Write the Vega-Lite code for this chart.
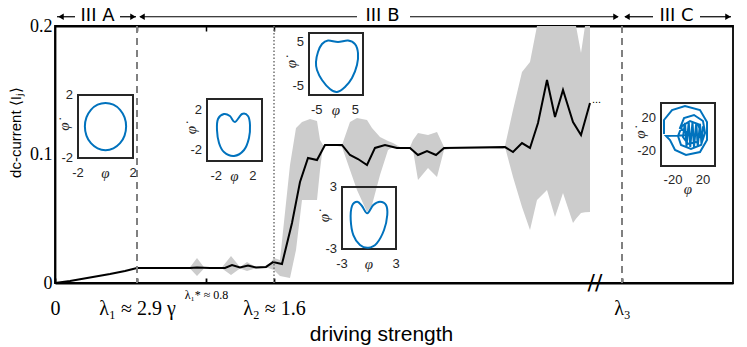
{
  "$schema": "https://vega.github.io/schema/vega-lite/v6.json",
  "width": 678,
  "height": 257,
  "autosize": {"type": "none"},
  "padding": {"left": 55, "top": 26, "right": 14, "bottom": 64},
  "background": "white",
  "config": {"view": {"stroke": "black", "strokeWidth": 1.8}, "axis": {"grid": false}},
  "resolve": {"scale": {"x": "independent", "y": "independent"}},
  "layer": [
    {
      "data": {"values": [
        {"x": 82, "hi": 0.0123, "lo": 0.0112}, {"x": 130, "hi": 0.0123, "lo": 0.0112},
        {"x": 135, "hi": 0.0123, "lo": 0.0112}, {"x": 142, "hi": 0.0195, "lo": 0.0054},
        {"x": 149, "hi": 0.0123, "lo": 0.0112}, {"x": 167, "hi": 0.0123, "lo": 0.0112},
        {"x": 176, "hi": 0.021, "lo": 0.0062}, {"x": 185, "hi": 0.0125, "lo": 0.0112},
        {"x": 192, "hi": 0.0163, "lo": 0.0093}, {"x": 200, "hi": 0.0128, "lo": 0.0112},
        {"x": 213, "hi": 0.0132, "lo": 0.0117}, {"x": 219, "hi": 0.0195, "lo": 0.0101},
        {"x": 225, "hi": 0.0179, "lo": 0.0054}, {"x": 235, "hi": 0.0918, "lo": 0.0039},
        {"x": 241, "hi": 0.1206, "lo": 0.0257}, {"x": 247, "hi": 0.1253, "lo": 0.0646},
        {"x": 255, "hi": 0.1276, "lo": 0.0646}, {"x": 262, "hi": 0.1261, "lo": 0.0646},
        {"x": 265, "hi": 0.1113, "lo": 0.0879}, {"x": 268, "hi": 0.1074, "lo": 0.1066},
        {"x": 282, "hi": 0.1074, "lo": 0.1066}, {"x": 287, "hi": 0.1074, "lo": 0.1058},
        {"x": 295, "hi": 0.1253, "lo": 0.0879}, {"x": 302, "hi": 0.1284, "lo": 0.0724},
        {"x": 312, "hi": 0.1268, "lo": 0.0553}, {"x": 317, "hi": 0.1206, "lo": 0.0607},
        {"x": 325, "hi": 0.1136, "lo": 0.084}, {"x": 333, "hi": 0.1105, "lo": 0.1035},
        {"x": 338, "hi": 0.1089, "lo": 0.1058}, {"x": 345, "hi": 0.1058, "lo": 0.1043},
        {"x": 355, "hi": 0.1058, "lo": 0.1043}, {"x": 358, "hi": 0.1113, "lo": 0.1035},
        {"x": 363, "hi": 0.1167, "lo": 0.0802}, {"x": 373, "hi": 0.1152, "lo": 0.0895},
        {"x": 382, "hi": 0.1175, "lo": 0.0825}, {"x": 389, "hi": 0.1058, "lo": 0.1035},
        {"x": 395, "hi": 0.1058, "lo": 0.1043}, {"x": 448, "hi": 0.1058, "lo": 0.1043},
        {"x": 450, "hi": 0.1066, "lo": 0.1058}, {"x": 458, "hi": 0.1346, "lo": 0.0825},
        {"x": 467, "hi": 0.1642, "lo": 0.0591}, {"x": 475, "hi": 0.172, "lo": 0.0412},
        {"x": 482, "hi": 0.2, "lo": 0.0646}, {"x": 492, "hi": 0.2, "lo": 0.0724},
        {"x": 500, "hi": 0.2, "lo": 0.0514}, {"x": 508, "hi": 0.2, "lo": 0.07},
        {"x": 518, "hi": 0.2, "lo": 0.0467}, {"x": 521, "hi": 0.2, "lo": 0.05},
        {"x": 526, "hi": 0.179, "lo": 0.0545}, {"x": 530, "hi": 0.2, "lo": 0.055},
        {"x": 535, "hi": 0.2, "lo": 0.0553}
      ]},
      "mark": {"type": "area", "color": "#cccccc"},
      "encoding": {
        "x": {"field": "x", "type": "quantitative", "scale": {"domain": [0, 678], "nice": false, "zero": false},
          "axis": {"orient": "bottom", "values": [0, 82, 151, 219, 567],
            "labelExpr": "datum.value == 0 ? '0' : datum.value == 82 ? 'λ₁ ≈ 2.9 γ' : datum.value == 151 ? 'λ₁* ≈ 0.8' : datum.value == 219 ? 'λ₂ ≈ 1.6' : 'λ₃'",
            "labelFont": "Liberation Serif",
            "labelFontSize": {"condition": {"test": "datum.value == 151", "value": 12}, "value": 20},
            "labelBaseline": {"condition": {"test": "datum.value == 151", "value": "alphabetic"}, "value": "top"},
            "labelColor": "black", "labelPadding": 20, "labelFlush": false, "labelOverlap": false,
            "tickSize": -5, "tickColor": "black", "tickWidth": 1.8,
            "domainColor": "black", "domainWidth": 1.8,
            "title": "driving strength", "titleFont": "Liberation Sans", "titleFontSize": 21,
            "titleFontWeight": "normal", "titleColor": "black", "titlePadding": 5, "titleX": 326}},
        "y": {"field": "hi", "type": "quantitative", "scale": {"domain": [0, 0.2], "nice": false, "zero": false},
          "axis": {"orient": "left", "values": [0, 0.1, 0.2],
            "labelExpr": "datum.value == 0 ? '0' : datum.value == 0.1 ? '0.1' : '0.2'",
            "labelFont": "Liberation Serif", "labelFontSize": 18, "labelColor": "black", "labelPadding": 3,
            "tickSize": 0, "domainColor": "black", "domainWidth": 1.8,
            "title": "dc-current ⟨Iⱼ⟩", "titleFont": "Liberation Sans", "titleFontSize": 15,
            "titleFontWeight": "normal", "titleColor": "black", "titlePadding": 6, "titleY": 106}},
        "y2": {"field": "lo"}
      }
    },
    {
      "data": {"values": [
        {"x": 0, "y": 0}, {"x": 15, "y": 0.0016}, {"x": 35, "y": 0.0043}, {"x": 55, "y": 0.007},
        {"x": 70, "y": 0.0093}, {"x": 82, "y": 0.0117}, {"x": 105, "y": 0.0117}, {"x": 135, "y": 0.0117},
        {"x": 142, "y": 0.0121}, {"x": 155, "y": 0.0117}, {"x": 170, "y": 0.0117}, {"x": 177, "y": 0.014},
        {"x": 185, "y": 0.0121}, {"x": 193, "y": 0.0136}, {"x": 201, "y": 0.0121}, {"x": 211, "y": 0.0125},
        {"x": 218, "y": 0.0163}, {"x": 227, "y": 0.0148}, {"x": 237, "y": 0.0467}, {"x": 245, "y": 0.0786},
        {"x": 253, "y": 0.0973}, {"x": 262, "y": 0.0957}, {"x": 270, "y": 0.1074}, {"x": 287, "y": 0.1074},
        {"x": 295, "y": 0.0996}, {"x": 303, "y": 0.0965}, {"x": 312, "y": 0.0918}, {"x": 320, "y": 0.1051},
        {"x": 330, "y": 0.1074}, {"x": 342, "y": 0.1051}, {"x": 355, "y": 0.1051}, {"x": 363, "y": 0.0996},
        {"x": 372, "y": 0.1027}, {"x": 381, "y": 0.0996}, {"x": 389, "y": 0.1051}, {"x": 450, "y": 0.1058},
        {"x": 458, "y": 0.1019}, {"x": 467, "y": 0.1089}, {"x": 475, "y": 0.1051}, {"x": 483, "y": 0.1245},
        {"x": 492, "y": 0.158}, {"x": 500, "y": 0.1292}, {"x": 508, "y": 0.1502}, {"x": 518, "y": 0.1253},
        {"x": 526, "y": 0.1152}, {"x": 535, "y": 0.1401}
      ]},
      "mark": {"type": "line", "color": "black", "strokeWidth": 2},
      "encoding": {
        "x": {"field": "x", "type": "quantitative", "scale": {"domain": [0, 678], "nice": false, "zero": false},
          "axis": {"orient": "top", "values": [82, 151, 219], "labels": false, "tickSize": -5,
            "tickColor": "black", "tickWidth": 1.5, "domainColor": "black", "domainWidth": 1.8, "title": null}},
        "y": {"field": "y", "type": "quantitative", "scale": {"domain": [0, 0.2], "nice": false, "zero": false}, "axis": null}
      }
    },
    {
      "data": {"values": [{"x": 82}, {"x": 567}]},
      "mark": {"type": "rule", "color": "#808080", "strokeWidth": 2, "strokeDash": [7, 5]},
      "encoding": {"x": {"field": "x", "type": "quantitative", "scale": {"domain": [0, 678], "nice": false, "zero": false}, "axis": null}}
    },
    {
      "data": {"values": [{"x": 219}]},
      "mark": {"type": "rule", "color": "#707070", "strokeWidth": 1.5, "strokeDash": [1.5, 2]},
      "encoding": {"x": {"field": "x", "type": "quantitative", "scale": {"domain": [0, 678], "nice": false, "zero": false}, "axis": null}}
    },
    {
      "data": {"values": [{"x": 535, "y": 0.1401}]},
      "mark": {"type": "text", "text": "...", "align": "left", "baseline": "middle", "dx": 2, "dy": -3, "fontSize": 11, "font": "Liberation Sans", "color": "black"},
      "encoding": {
        "x": {"field": "x", "type": "quantitative", "scale": {"domain": [0, 678], "nice": false, "zero": false}, "axis": null},
        "y": {"field": "y", "type": "quantitative", "scale": {"domain": [0, 0.2], "nice": false, "zero": false}, "axis": null}
      }
    },
    {
      "data": {"values": [{"x": 540, "y": 0}]},
      "mark": {"type": "text", "text": "//", "align": "center", "baseline": "middle", "fontSize": 22, "font": "DejaVu Sans", "color": "black"},
      "encoding": {
        "x": {"field": "x", "type": "quantitative", "scale": {"domain": [0, 678], "nice": false, "zero": false}, "axis": null},
        "y": {"field": "y", "type": "quantitative", "scale": {"domain": [0, 0.2], "nice": false, "zero": false}, "axis": null}
      }
    },
    {
      "data": {"values": [
        {"x1": 2, "x2": 20}, {"x1": 65, "x2": 81}, {"x1": 85, "x2": 302},
        {"x1": 355, "x2": 563}, {"x1": 570, "x2": 598}, {"x1": 645, "x2": 676}
      ]},
      "mark": {"type": "rule", "color": "black", "strokeWidth": 1.2},
      "encoding": {
        "x": {"field": "x1", "type": "quantitative", "scale": {"domain": [0, 678], "nice": false, "zero": false}, "axis": null},
        "x2": {"field": "x2"},
        "y": {"datum": 0.2072, "type": "quantitative", "scale": {"domain": [0, 0.2], "nice": false, "zero": false}, "axis": null}
      }
    },
    {
      "data": {"values": [
        {"x": 6, "d": "l"}, {"x": 78, "d": "r"}, {"x": 87, "d": "l"},
        {"x": 561, "d": "r"}, {"x": 572, "d": "l"}, {"x": 673, "d": "r"}
      ]},
      "mark": {"type": "point", "filled": true, "color": "black", "size": 40, "opacity": 1},
      "encoding": {
        "x": {"field": "x", "type": "quantitative", "scale": {"domain": [0, 678], "nice": false, "zero": false}, "axis": null},
        "y": {"datum": 0.2072, "type": "quantitative", "scale": {"domain": [0, 0.2], "nice": false, "zero": false}, "axis": null},
        "shape": {"field": "d", "type": "nominal", "scale": {"domain": ["l", "r"], "range": ["triangle-left", "triangle-right"]}, "legend": null}
      }
    },
    {
      "data": {"values": [{"x": 42.5, "t": "III A"}, {"x": 327.5, "t": "III B"}, {"x": 621.5, "t": "III C"}]},
      "mark": {"type": "text", "align": "center", "baseline": "middle", "font": "DejaVu Sans", "fontSize": 18, "color": "black"},
      "encoding": {
        "x": {"field": "x", "type": "quantitative", "scale": {"domain": [0, 678], "nice": false, "zero": false}, "axis": null},
        "y": {"datum": 0.2078, "type": "quantitative", "scale": {"domain": [0, 0.2], "nice": false, "zero": false}, "axis": null},
        "text": {"field": "t"}
      }
    },
    {
      "layer": [
        {
          "data": {"values": [{}]},
          "mark": {"type": "rect", "fill": "white", "fillOpacity": 0, "stroke": "#262626", "strokeWidth": 2},
          "encoding": {
            "x": {"datum": -2, "type": "quantitative", "scale": {"domain": [-2, 2], "range": [23, 78], "nice": false, "zero": false}, "axis": null},
            "x2": {"datum": 2},
            "y": {"datum": -2, "type": "quantitative", "scale": {"domain": [-2, 2], "range": [132, 69], "nice": false, "zero": false}, "axis": null},
            "y2": {"datum": 2}
          }
        },
        {
          "data": {"values": [
            {"i": 0, "x": 1.5, "y": 0}, {"i": 1, "x": 1.386, "y": 0.574}, {"i": 2, "x": 1.061, "y": 1.061},
            {"i": 3, "x": 0.574, "y": 1.386}, {"i": 4, "x": 0, "y": 1.5}, {"i": 5, "x": -0.574, "y": 1.386},
            {"i": 6, "x": -1.061, "y": 1.061}, {"i": 7, "x": -1.386, "y": 0.574}, {"i": 8, "x": -1.5, "y": 0},
            {"i": 9, "x": -1.386, "y": -0.574}, {"i": 10, "x": -1.061, "y": -1.061}, {"i": 11, "x": -0.574, "y": -1.386},
            {"i": 12, "x": 0, "y": -1.5}, {"i": 13, "x": 0.574, "y": -1.386}, {"i": 14, "x": 1.061, "y": -1.061},
            {"i": 15, "x": 1.386, "y": -0.574}
          ]},
          "mark": {"type": "line", "interpolate": "cardinal-closed", "color": "#0072BD", "strokeWidth": 2},
          "encoding": {
            "x": {"field": "x", "type": "quantitative", "scale": {"domain": [-2, 2], "range": [23, 78], "nice": false, "zero": false}, "axis": null},
            "y": {"field": "y", "type": "quantitative", "scale": {"domain": [-2, 2], "range": [132, 69], "nice": false, "zero": false}, "axis": null},
            "order": {"field": "i", "type": "quantitative"}
          }
        },
        {
          "data": {"values": [{"v": 2, "t": "2"}, {"v": -2, "t": "-2"}]},
          "mark": {"type": "text", "align": "right", "baseline": "middle", "dx": -5, "font": "Liberation Sans", "fontSize": 13, "color": "#262626"},
          "encoding": {
            "x": {"datum": -2, "type": "quantitative", "scale": {"domain": [-2, 2], "range": [23, 78], "nice": false, "zero": false}, "axis": null},
            "y": {"field": "v", "type": "quantitative", "scale": {"domain": [-2, 2], "range": [132, 69], "nice": false, "zero": false}, "axis": null},
            "text": {"field": "t"}
          }
        },
        {
          "data": {"values": [{"v": -2, "t": "-2"}, {"v": 2, "t": "2"}]},
          "mark": {"type": "text", "align": "center", "baseline": "middle", "dy": 15, "font": "Liberation Sans", "fontSize": 13, "color": "#262626"},
          "encoding": {
            "x": {"field": "v", "type": "quantitative", "scale": {"domain": [-2, 2], "range": [23, 78], "nice": false, "zero": false}, "axis": null},
            "y": {"datum": -2, "type": "quantitative", "scale": {"domain": [-2, 2], "range": [132, 69], "nice": false, "zero": false}, "axis": null},
            "text": {"field": "t"}
          }
        },
        {
          "data": {"values": [{}]},
          "mark": {"type": "text", "text": "φ", "align": "center", "baseline": "middle", "dy": 15, "font": "Liberation Serif", "fontStyle": "italic", "fontSize": 15, "color": "#262626"},
          "encoding": {
            "x": {"datum": 0, "type": "quantitative", "scale": {"domain": [-2, 2], "range": [23, 78], "nice": false, "zero": false}, "axis": null},
            "y": {"datum": -2, "type": "quantitative", "scale": {"domain": [-2, 2], "range": [132, 69], "nice": false, "zero": false}, "axis": null}
          }
        },
        {
          "data": {"values": [{}]},
          "mark": {"type": "text", "text": "φ̇", "angle": 270, "align": "center", "baseline": "middle", "dy": -14, "font": "Liberation Serif", "fontStyle": "italic", "fontSize": 15, "color": "#262626"},
          "encoding": {
            "x": {"datum": -2, "type": "quantitative", "scale": {"domain": [-2, 2], "range": [23, 78], "nice": false, "zero": false}, "axis": null},
            "y": {"datum": 0, "type": "quantitative", "scale": {"domain": [-2, 2], "range": [132, 69], "nice": false, "zero": false}, "axis": null}
          }
        }
      ]
    },
    {
      "layer": [
        {
          "data": {"values": [{}]},
          "mark": {"type": "rect", "fill": "white", "fillOpacity": 0, "stroke": "#262626", "strokeWidth": 2},
          "encoding": {
            "x": {"datum": -3, "type": "quantitative", "scale": {"domain": [-3, 3], "range": [152, 207], "nice": false, "zero": false}, "axis": null},
            "x2": {"datum": 3},
            "y": {"datum": -3.1, "type": "quantitative", "scale": {"domain": [-3.1, 3.1], "range": [135, 73], "nice": false, "zero": false}, "axis": null},
            "y2": {"datum": 3.1}
          }
        },
        {
          "data": {"values": [
            {"i": 0, "x": 0.05, "y": 0.8}, {"i": 1, "x": 0.82, "y": 1.6}, {"i": 2, "x": 1.47, "y": 1.4},
            {"i": 3, "x": 1.69, "y": 0.5}, {"i": 4, "x": 1.58, "y": -0.8}, {"i": 5, "x": 1.04, "y": -2.0},
            {"i": 6, "x": -0.05, "y": -2.6}, {"i": 7, "x": -1.15, "y": -2.2}, {"i": 8, "x": -1.69, "y": -1.3},
            {"i": 9, "x": -1.91, "y": 0}, {"i": 10, "x": -1.8, "y": 1.1}, {"i": 11, "x": -1.15, "y": 1.6},
            {"i": 12, "x": -0.5, "y": 1.4}
          ]},
          "mark": {"type": "line", "interpolate": "cardinal-closed", "color": "#0072BD", "strokeWidth": 2},
          "encoding": {
            "x": {"field": "x", "type": "quantitative", "scale": {"domain": [-3, 3], "range": [152, 207], "nice": false, "zero": false}, "axis": null},
            "y": {"field": "y", "type": "quantitative", "scale": {"domain": [-3.1, 3.1], "range": [135, 73], "nice": false, "zero": false}, "axis": null},
            "order": {"field": "i", "type": "quantitative"}
          }
        },
        {
          "data": {"values": [{"v": 2, "t": "2"}, {"v": -2, "t": "-2"}]},
          "mark": {"type": "text", "align": "right", "baseline": "middle", "dx": -5, "font": "Liberation Sans", "fontSize": 13, "color": "#262626"},
          "encoding": {
            "x": {"datum": -3, "type": "quantitative", "scale": {"domain": [-3, 3], "range": [152, 207], "nice": false, "zero": false}, "axis": null},
            "y": {"field": "v", "type": "quantitative", "scale": {"domain": [-3.1, 3.1], "range": [135, 73], "nice": false, "zero": false}, "axis": null},
            "text": {"field": "t"}
          }
        },
        {
          "data": {"values": [{"v": -2, "t": "-2"}, {"v": 2, "t": "2"}]},
          "mark": {"type": "text", "align": "center", "baseline": "middle", "dy": 15, "font": "Liberation Sans", "fontSize": 13, "color": "#262626"},
          "encoding": {
            "x": {"field": "v", "type": "quantitative", "scale": {"domain": [-3, 3], "range": [152, 207], "nice": false, "zero": false}, "axis": null},
            "y": {"datum": -3.1, "type": "quantitative", "scale": {"domain": [-3.1, 3.1], "range": [135, 73], "nice": false, "zero": false}, "axis": null},
            "text": {"field": "t"}
          }
        },
        {
          "data": {"values": [{}]},
          "mark": {"type": "text", "text": "φ", "align": "center", "baseline": "middle", "dy": 15, "font": "Liberation Serif", "fontStyle": "italic", "fontSize": 15, "color": "#262626"},
          "encoding": {
            "x": {"datum": 0, "type": "quantitative", "scale": {"domain": [-3, 3], "range": [152, 207], "nice": false, "zero": false}, "axis": null},
            "y": {"datum": -3.1, "type": "quantitative", "scale": {"domain": [-3.1, 3.1], "range": [135, 73], "nice": false, "zero": false}, "axis": null}
          }
        },
        {
          "data": {"values": [{}]},
          "mark": {"type": "text", "text": "φ̇", "angle": 270, "align": "center", "baseline": "middle", "dy": -16, "font": "Liberation Serif", "fontStyle": "italic", "fontSize": 15, "color": "#262626"},
          "encoding": {
            "x": {"datum": -3, "type": "quantitative", "scale": {"domain": [-3, 3], "range": [152, 207], "nice": false, "zero": false}, "axis": null},
            "y": {"datum": 0, "type": "quantitative", "scale": {"domain": [-3.1, 3.1], "range": [135, 73], "nice": false, "zero": false}, "axis": null}
          }
        }
      ]
    },
    {
      "layer": [
        {
          "data": {"values": [{}]},
          "mark": {"type": "rect", "fill": "white", "fillOpacity": 0, "stroke": "#262626", "strokeWidth": 2},
          "encoding": {
            "x": {"datum": -7, "type": "quantitative", "scale": {"domain": [-7, 7], "range": [254, 308], "nice": false, "zero": false}, "axis": null},
            "x2": {"datum": 7},
            "y": {"datum": -7, "type": "quantitative", "scale": {"domain": [-7, 7], "range": [69, 7], "nice": false, "zero": false}, "axis": null},
            "y2": {"datum": 7}
          }
        },
        {
          "data": {"values": [
            {"i": 0, "x": 0.52, "y": 4.97}, {"i": 1, "x": 3.11, "y": 5.3}, {"i": 2, "x": 4.93, "y": 4.51},
            {"i": 3, "x": 5.7, "y": 2.48}, {"i": 4, "x": 5.44, "y": -0.23}, {"i": 5, "x": 4.15, "y": -3.16},
            {"i": 6, "x": 2.33, "y": -5.19}, {"i": 7, "x": 0.26, "y": -6.32}, {"i": 8, "x": -1.56, "y": -5.64},
            {"i": 9, "x": -3.63, "y": -3.61}, {"i": 10, "x": -4.93, "y": -1.35}, {"i": 11, "x": -5.19, "y": 0.45},
            {"i": 12, "x": -4.67, "y": 2.71}, {"i": 13, "x": -3.63, "y": 4.51}, {"i": 14, "x": -2.07, "y": 5.3}
          ]},
          "mark": {"type": "line", "interpolate": "cardinal-closed", "color": "#0072BD", "strokeWidth": 2},
          "encoding": {
            "x": {"field": "x", "type": "quantitative", "scale": {"domain": [-7, 7], "range": [254, 308], "nice": false, "zero": false}, "axis": null},
            "y": {"field": "y", "type": "quantitative", "scale": {"domain": [-7, 7], "range": [69, 7], "nice": false, "zero": false}, "axis": null},
            "order": {"field": "i", "type": "quantitative"}
          }
        },
        {
          "data": {"values": [{"v": 5, "t": "5"}, {"v": -5, "t": "-5"}]},
          "mark": {"type": "text", "align": "right", "baseline": "middle", "dx": -5, "font": "Liberation Sans", "fontSize": 13, "color": "#262626"},
          "encoding": {
            "x": {"datum": -7, "type": "quantitative", "scale": {"domain": [-7, 7], "range": [254, 308], "nice": false, "zero": false}, "axis": null},
            "y": {"field": "v", "type": "quantitative", "scale": {"domain": [-7, 7], "range": [69, 7], "nice": false, "zero": false}, "axis": null},
            "text": {"field": "t"}
          }
        },
        {
          "data": {"values": [{"v": -5, "t": "-5"}, {"v": 5, "t": "5"}]},
          "mark": {"type": "text", "align": "center", "baseline": "middle", "dy": 15, "font": "Liberation Sans", "fontSize": 13, "color": "#262626"},
          "encoding": {
            "x": {"field": "v", "type": "quantitative", "scale": {"domain": [-7, 7], "range": [254, 308], "nice": false, "zero": false}, "axis": null},
            "y": {"datum": -7, "type": "quantitative", "scale": {"domain": [-7, 7], "range": [69, 7], "nice": false, "zero": false}, "axis": null},
            "text": {"field": "t"}
          }
        },
        {
          "data": {"values": [{}]},
          "mark": {"type": "text", "text": "φ", "align": "center", "baseline": "middle", "dy": 15, "font": "Liberation Serif", "fontStyle": "italic", "fontSize": 15, "color": "#262626"},
          "encoding": {
            "x": {"datum": 0, "type": "quantitative", "scale": {"domain": [-7, 7], "range": [254, 308], "nice": false, "zero": false}, "axis": null},
            "y": {"datum": -7, "type": "quantitative", "scale": {"domain": [-7, 7], "range": [69, 7], "nice": false, "zero": false}, "axis": null}
          }
        },
        {
          "data": {"values": [{}]},
          "mark": {"type": "text", "text": "φ̇", "angle": 270, "align": "center", "baseline": "middle", "dy": -18, "font": "Liberation Serif", "fontStyle": "italic", "fontSize": 15, "color": "#262626"},
          "encoding": {
            "x": {"datum": -7, "type": "quantitative", "scale": {"domain": [-7, 7], "range": [254, 308], "nice": false, "zero": false}, "axis": null},
            "y": {"datum": 0, "type": "quantitative", "scale": {"domain": [-7, 7], "range": [69, 7], "nice": false, "zero": false}, "axis": null}
          }
        }
      ]
    },
    {
      "layer": [
        {
          "data": {"values": [{}]},
          "mark": {"type": "rect", "fill": "white", "fillOpacity": 0, "stroke": "#262626", "strokeWidth": 2},
          "encoding": {
            "x": {"datum": -3, "type": "quantitative", "scale": {"domain": [-3, 3], "range": [287, 341], "nice": false, "zero": false}, "axis": null},
            "x2": {"datum": 3},
            "y": {"datum": -3, "type": "quantitative", "scale": {"domain": [-3, 3], "range": [223, 161], "nice": false, "zero": false}, "axis": null},
            "y2": {"datum": 3}
          }
        },
        {
          "data": {"values": [
            {"i": 0, "x": -0.19, "y": 0.45}, {"i": 1, "x": -0.78, "y": 1.16}, {"i": 2, "x": -1.3, "y": 1.58},
            {"i": 3, "x": -1.89, "y": 1.16}, {"i": 4, "x": -2.03, "y": -0.19}, {"i": 5, "x": -1.74, "y": -1.65},
            {"i": 6, "x": -1.0, "y": -2.61}, {"i": 7, "x": -0.08, "y": -2.88}, {"i": 8, "x": 0.86, "y": -2.45},
            {"i": 9, "x": 1.67, "y": -1.16}, {"i": 10, "x": 2.03, "y": 0.29}, {"i": 11, "x": 1.89, "y": 1.26},
            {"i": 12, "x": 1.22, "y": 1.58}, {"i": 13, "x": 0.48, "y": 1.26}
          ]},
          "mark": {"type": "line", "interpolate": "cardinal-closed", "color": "#0072BD", "strokeWidth": 2},
          "encoding": {
            "x": {"field": "x", "type": "quantitative", "scale": {"domain": [-3, 3], "range": [287, 341], "nice": false, "zero": false}, "axis": null},
            "y": {"field": "y", "type": "quantitative", "scale": {"domain": [-3, 3], "range": [223, 161], "nice": false, "zero": false}, "axis": null},
            "order": {"field": "i", "type": "quantitative"}
          }
        },
        {
          "data": {"values": [{"v": 3, "t": "3"}, {"v": -3, "t": "-3"}]},
          "mark": {"type": "text", "align": "right", "baseline": "middle", "dx": -5, "font": "Liberation Sans", "fontSize": 13, "color": "#262626"},
          "encoding": {
            "x": {"datum": -3, "type": "quantitative", "scale": {"domain": [-3, 3], "range": [287, 341], "nice": false, "zero": false}, "axis": null},
            "y": {"field": "v", "type": "quantitative", "scale": {"domain": [-3, 3], "range": [223, 161], "nice": false, "zero": false}, "axis": null},
            "text": {"field": "t"}
          }
        },
        {
          "data": {"values": [{"v": -3, "t": "-3"}, {"v": 3, "t": "3"}]},
          "mark": {"type": "text", "align": "center", "baseline": "middle", "dy": 15, "font": "Liberation Sans", "fontSize": 13, "color": "#262626"},
          "encoding": {
            "x": {"field": "v", "type": "quantitative", "scale": {"domain": [-3, 3], "range": [287, 341], "nice": false, "zero": false}, "axis": null},
            "y": {"datum": -3, "type": "quantitative", "scale": {"domain": [-3, 3], "range": [223, 161], "nice": false, "zero": false}, "axis": null},
            "text": {"field": "t"}
          }
        },
        {
          "data": {"values": [{}]},
          "mark": {"type": "text", "text": "φ", "align": "center", "baseline": "middle", "dy": 15, "font": "Liberation Serif", "fontStyle": "italic", "fontSize": 15, "color": "#262626"},
          "encoding": {
            "x": {"datum": 0, "type": "quantitative", "scale": {"domain": [-3, 3], "range": [287, 341], "nice": false, "zero": false}, "axis": null},
            "y": {"datum": -3, "type": "quantitative", "scale": {"domain": [-3, 3], "range": [223, 161], "nice": false, "zero": false}, "axis": null}
          }
        },
        {
          "data": {"values": [{}]},
          "mark": {"type": "text", "text": "φ̇", "angle": 270, "align": "center", "baseline": "middle", "dy": -18, "font": "Liberation Serif", "fontStyle": "italic", "fontSize": 15, "color": "#262626"},
          "encoding": {
            "x": {"datum": -3, "type": "quantitative", "scale": {"domain": [-3, 3], "range": [287, 341], "nice": false, "zero": false}, "axis": null},
            "y": {"datum": 0, "type": "quantitative", "scale": {"domain": [-3, 3], "range": [223, 161], "nice": false, "zero": false}, "axis": null}
          }
        }
      ]
    },
    {
      "layer": [
        {
          "data": {"values": [{}]},
          "mark": {"type": "rect", "fill": "white", "fillOpacity": 0, "stroke": "#262626", "strokeWidth": 2},
          "encoding": {
            "x": {"datum": -36, "type": "quantitative", "scale": {"domain": [-36, 36], "range": [606, 660], "nice": false, "zero": false}, "axis": null},
            "x2": {"datum": 36},
            "y": {"datum": -38, "type": "quantitative", "scale": {"domain": [-38, 38], "range": [140, 77], "nice": false, "zero": false}, "axis": null},
            "y2": {"datum": 38}
          }
        },
        {
          "data": {"values": [
            {"i": 0, "x": -32, "y": 0.6}, {"i": 1, "x": -32, "y": 17.5}, {"i": 2, "x": -21.3, "y": 29.5},
            {"i": 3, "x": -4, "y": 34.3}, {"i": 4, "x": 16, "y": 29.5}, {"i": 5, "x": 25.3, "y": 15.1},
            {"i": 6, "x": 25.3, "y": -6.6}, {"i": 7, "x": 16, "y": -21.1}, {"i": 8, "x": -2.7, "y": -24.7},
            {"i": 9, "x": -17.3, "y": -18.7}, {"i": 10, "x": -24, "y": -6.6}, {"i": 11, "x": -29.3, "y": -1.8},
            {"i": 12, "x": 5.3, "y": -0.6}, {"i": 13, "x": -10.7, "y": 7.8}, {"i": 14, "x": -5.3, "y": 19.9},
            {"i": 15, "x": 8, "y": 23.5}, {"i": 16, "x": 20, "y": 16.3}, {"i": 17, "x": 22.7, "y": 1.8},
            {"i": 18, "x": 17.3, "y": -12.7}, {"i": 19, "x": 4, "y": -17.5}, {"i": 20, "x": -9.3, "y": -12.7},
            {"i": 21, "x": -13.3, "y": -1.8}, {"i": 22, "x": -8, "y": 10.2}, {"i": 23, "x": 2.7, "y": 16.3},
            {"i": 24, "x": 13.3, "y": 12.7}, {"i": 25, "x": 17.3, "y": 1.8}, {"i": 26, "x": 12, "y": -9},
            {"i": 27, "x": 0, "y": -11.4}, {"i": 28, "x": -6.7, "y": -3}, {"i": 29, "x": -4, "y": 14},
            {"i": 30, "x": -2, "y": -14}, {"i": 31, "x": 1, "y": 15}, {"i": 32, "x": 3, "y": -15},
            {"i": 33, "x": 6, "y": 15}, {"i": 34, "x": 8, "y": -15}, {"i": 35, "x": 11, "y": 14},
            {"i": 36, "x": 13, "y": -14}, {"i": 37, "x": 16, "y": 13}, {"i": 38, "x": 18, "y": -12},
            {"i": 39, "x": 20, "y": 10}
          ]},
          "mark": {"type": "line", "color": "#0072BD", "strokeWidth": 2},
          "encoding": {
            "x": {"field": "x", "type": "quantitative", "scale": {"domain": [-36, 36], "range": [606, 660], "nice": false, "zero": false}, "axis": null},
            "y": {"field": "y", "type": "quantitative", "scale": {"domain": [-38, 38], "range": [140, 77], "nice": false, "zero": false}, "axis": null},
            "order": {"field": "i", "type": "quantitative"}
          }
        },
        {
          "data": {"values": [{"v": 20, "t": "20"}, {"v": -20, "t": "-20"}]},
          "mark": {"type": "text", "align": "right", "baseline": "middle", "dx": -5, "font": "Liberation Sans", "fontSize": 13, "color": "#262626"},
          "encoding": {
            "x": {"datum": -36, "type": "quantitative", "scale": {"domain": [-36, 36], "range": [606, 660], "nice": false, "zero": false}, "axis": null},
            "y": {"field": "v", "type": "quantitative", "scale": {"domain": [-38, 38], "range": [140, 77], "nice": false, "zero": false}, "axis": null},
            "text": {"field": "t"}
          }
        },
        {
          "data": {"values": [{"v": -20, "t": "-20"}, {"v": 20, "t": "20"}]},
          "mark": {"type": "text", "align": "center", "baseline": "middle", "dy": 14, "font": "Liberation Sans", "fontSize": 13, "color": "#262626"},
          "encoding": {
            "x": {"field": "v", "type": "quantitative", "scale": {"domain": [-36, 36], "range": [606, 660], "nice": false, "zero": false}, "axis": null},
            "y": {"datum": -38, "type": "quantitative", "scale": {"domain": [-38, 38], "range": [140, 77], "nice": false, "zero": false}, "axis": null},
            "text": {"field": "t"}
          }
        },
        {
          "data": {"values": [{}]},
          "mark": {"type": "text", "text": "φ", "align": "center", "baseline": "middle", "dy": 23, "font": "Liberation Serif", "fontStyle": "italic", "fontSize": 15, "color": "#262626"},
          "encoding": {
            "x": {"datum": 0, "type": "quantitative", "scale": {"domain": [-36, 36], "range": [606, 660], "nice": false, "zero": false}, "axis": null},
            "y": {"datum": -38, "type": "quantitative", "scale": {"domain": [-38, 38], "range": [140, 77], "nice": false, "zero": false}, "axis": null}
          }
        },
        {
          "data": {"values": [{}]},
          "mark": {"type": "text", "text": "φ̇", "angle": 270, "align": "center", "baseline": "middle", "dy": -21, "font": "Liberation Serif", "fontStyle": "italic", "fontSize": 15, "color": "#262626"},
          "encoding": {
            "x": {"datum": -36, "type": "quantitative", "scale": {"domain": [-36, 36], "range": [606, 660], "nice": false, "zero": false}, "axis": null},
            "y": {"datum": 0, "type": "quantitative", "scale": {"domain": [-38, 38], "range": [140, 77], "nice": false, "zero": false}, "axis": null}
          }
        }
      ]
    }
  ]
}
